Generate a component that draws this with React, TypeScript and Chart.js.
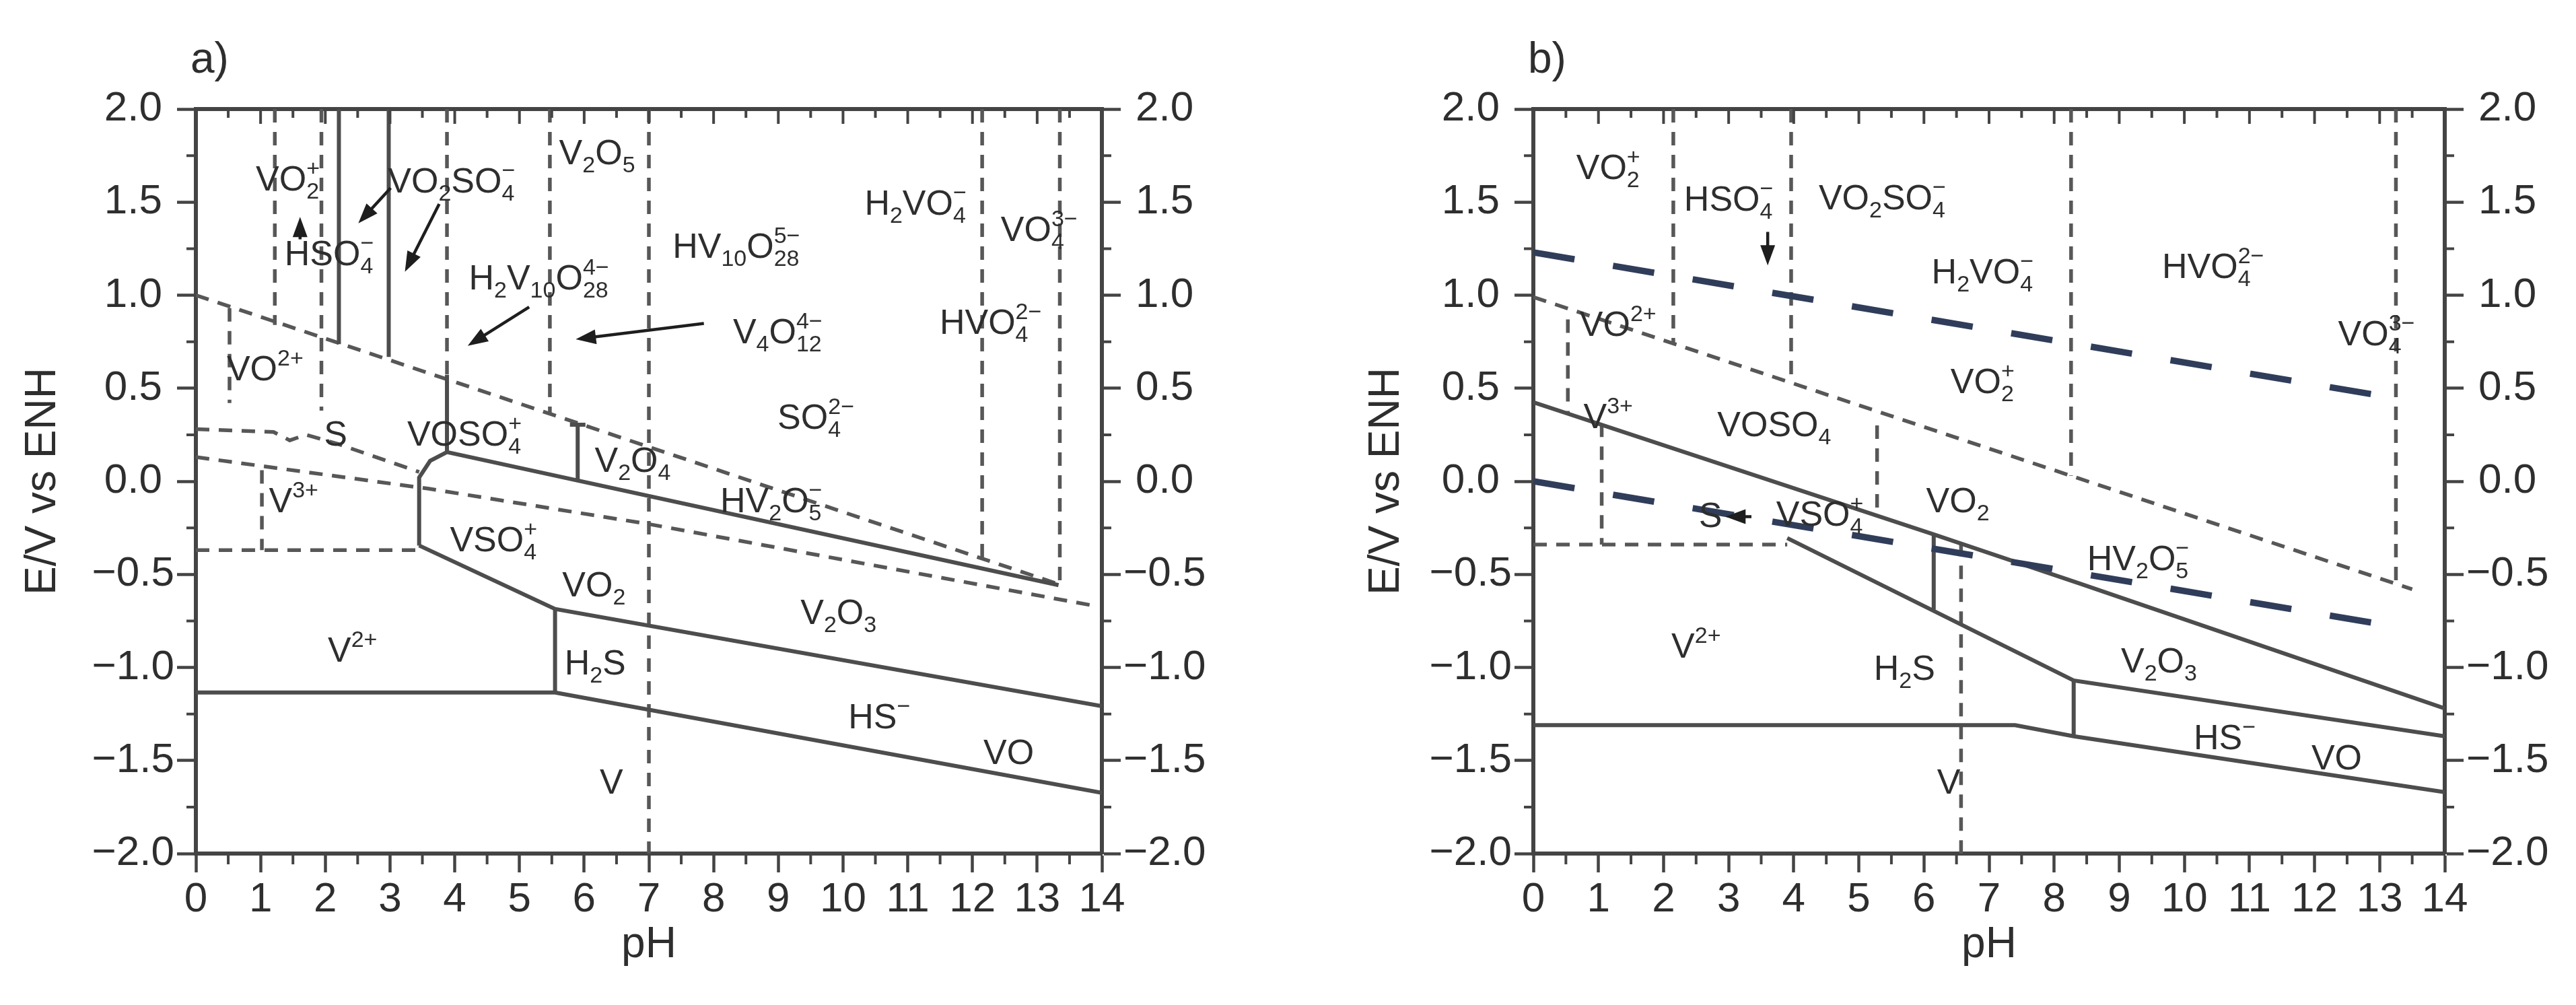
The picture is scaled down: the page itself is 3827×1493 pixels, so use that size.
import React, { useEffect, useRef } from "react";
import { Chart, registerables } from "chart.js";

Chart.register(...registerables);

type Pt = [number, number];
type Label = [string, number, number];
type Arrow = [Pt, Pt];

const W = 3827;
const H = 1493;
const PLOT_TOP = 162;
const PLOT_BOTTOM = 1268;

const PH_MIN = 0;
const PH_MAX = 14;
const E_MIN = -2;
const E_MAX = 2;
const PH_STEP = 1;
const E_STEP = 0.5;

const FAMILY = '"Liberation Sans", Arial, Helvetica, sans-serif';
const AXIS = "#444444";
const LINE = "#4d4d4d";
const DASH = "#575757";
const WATER = "#303d5a";
const TEXT = "#2e2e2e";

// ---------------- panel a ----------------
const A_SOLID: Pt[][] = [
  [[0, -1.135], [5.55, -1.135], [14, -1.674]],
  [[3.45, -0.345], [5.55, -0.686], [14, -1.208]],
  [[5.55, -1.135], [5.55, -0.686]],
  [[3.45, -0.345], [3.45, 0.02], [3.62, 0.11], [3.88, 0.157], [13.33, -0.558]],
  [[3.88, 0.572], [3.88, 0.157]],
  [[5.9, 0.005], [5.9, 0.304]],
  [[5.78, 0.304], [6.02, 0.304]],
  [[2.21, 2], [2.21, 0.737]],
  [[2.98, 2], [2.98, 0.668]],
];

const A_DASHED: Pt[][] = [
  [[0, 1.0], [13.35, -0.555]],
  [[0, 0.13], [3.6, -0.04], [7.0, -0.23], [13.9, -0.67]],
  [[0, 0.28], [1.2, 0.265], [1.45, 0.22], [1.7, 0.25], [2.2, 0.2], [3.45, 0.05]],
  [[0, -0.37], [3.45, -0.37]],
  [[0.52, 0.93], [0.52, 0.42]],
  [[1.02, 0.06], [1.02, -0.37]],
  [[1.22, 2], [1.22, 0.84]],
  [[1.94, 2], [1.94, 0.38]],
  [[3.88, 2], [3.88, 0.575]],
  [[5.47, 2], [5.47, 0.36]],
  [[7.0, 2], [7.0, -2]],
  [[12.15, 2], [12.15, -0.47]],
  [[13.35, 2], [13.35, -0.56]],
];

const A_WATER: Pt[][] = [];

const A_ARROWS: Arrow[] = [
  [[3.01, 1.576], [2.51, 1.386]],
  [[3.76, 1.49], [3.23, 1.126]],
  [[5.15, 0.936], [4.2, 0.728]],
  [[7.85, 0.848], [5.87, 0.763]],
  [[1.61, 1.3], [1.61, 1.42]],
];

const A_LABELS: Label[] = [
  ["VO_{2}^{+}", 1.42, 1.63],
  ["VO_{2}SO_{4}^{-}", 3.95, 1.62],
  ["HSO_{4}^{-}", 2.06, 1.23],
  ["V_{2}O_{5}", 6.2, 1.77],
  ["H_{2}V_{10}O_{28}^{4-}", 5.3, 1.1],
  ["HV_{10}O_{28}^{5-}", 8.35, 1.27],
  ["H_{2}VO_{4}^{-}", 11.12, 1.5],
  ["VO_{4}^{3-}", 13.03, 1.36],
  ["HVO_{4}^{2-}", 12.28, 0.86],
  ["V_{4}O_{12}^{4-}", 8.99, 0.81],
  ["SO_{4}^{2-}", 9.58, 0.35],
  ["HV_{2}O_{5}^{-}", 8.89, -0.1],
  ["V_{2}O_{4}", 6.75, 0.12],
  ["VOSO_{4}^{+}", 4.15, 0.26],
  ["VO^{2+}", 1.07, 0.61],
  ["S", 2.16, 0.26],
  ["V^{3+}", 1.51, -0.1],
  ["VSO_{4}^{+}", 4.6, -0.31],
  ["VO_{2}", 6.15, -0.55],
  ["V_{2}O_{3}", 9.93, -0.7],
  ["V^{2+}", 2.42, -0.9],
  ["H_{2}S", 6.17, -0.97],
  ["HS^{-}", 10.56, -1.26],
  ["VO", 12.56, -1.45],
  ["V", 6.42, -1.61],
];

// ---------------- panel b ----------------
const B_SOLID: Pt[][] = [
  [[0, 0.425], [6.15, -0.285], [8.4, -0.55], [14, -1.22]],
  [[3.9, -0.305], [8.3, -1.07], [14, -1.37]],
  [[6.15, -0.285], [6.15, -0.69]],
  [[0, -1.31], [7.4, -1.31], [8.3, -1.37], [14, -1.67]],
  [[8.3, -1.07], [8.3, -1.37]],
];

const B_DASHED: Pt[][] = [
  [[0, 0.99], [13.5, -0.58]],
  [[0, -0.34], [3.9, -0.34]],
  [[0.53, 0.87], [0.53, 0.37]],
  [[1.05, 0.31], [1.05, -0.34]],
  [[2.15, 2], [2.15, 0.74]],
  [[3.96, 2], [3.96, 0.53]],
  [[5.28, 0.3], [5.28, -0.18]],
  [[8.26, 2], [8.26, 0.03]],
  [[13.25, 2], [13.25, -0.55]],
  [[6.57, -0.33], [6.57, -2]],
];

const B_WATER: Pt[][] = [
  [[0, 1.23], [13.35, 0.44]],
  [[0, 0.0], [13.4, -0.79]],
];

const B_ARROWS: Arrow[] = [
  [[3.6, 1.34], [3.6, 1.16]],
  [[3.35, -0.19], [2.95, -0.19]],
];

const B_LABELS: Label[] = [
  ["VO_{2}^{+}", 1.15, 1.69],
  ["HSO_{4}^{-}", 3.0, 1.52],
  ["VO_{2}SO_{4}^{-}", 5.36, 1.53],
  ["H_{2}VO_{4}^{-}", 6.9, 1.13],
  ["HVO_{4}^{2-}", 10.44, 1.16],
  ["VO_{4}^{3-}", 12.95, 0.8],
  ["VO^{2+}", 1.3, 0.85],
  ["VO_{2}^{+}", 6.9, 0.54],
  ["V^{3+}", 1.15, 0.355],
  ["VOSO_{4}", 3.7, 0.31],
  ["VSO_{4}^{+}", 4.4, -0.17],
  ["S", 2.72, -0.18],
  ["VO_{2}", 6.52, -0.1],
  ["HV_{2}O_{5}^{-}", 9.29, -0.41],
  ["V^{2+}", 2.5, -0.88],
  ["H_{2}S", 5.7, -1.0],
  ["V", 6.38, -1.61],
  ["V_{2}O_{3}", 9.61, -0.96],
  ["HS^{-}", 10.62, -1.37],
  ["VO", 12.34, -1.48],
];

interface PanelSpec {
  letter: string;
  canvasLeft: number;
  canvasWidth: number;
  yWidth: number;
  y2Width: number;
  yTitlePad: number;
  solid: Pt[][];
  dashed: Pt[][];
  water: Pt[][];
  arrows: Arrow[];
  labels: Label[];
}

const PANELS: PanelSpec[] = [
  {
    letter: "a)", canvasLeft: 0, canvasWidth: 1913, yWidth: 291, y2Width: 1913 - 1637, yTitlePad: 26,
    solid: A_SOLID, dashed: A_DASHED, water: A_WATER, arrows: A_ARROWS, labels: A_LABELS,
  },
  {
    letter: "b)", canvasLeft: 1913, canvasWidth: 1914, yWidth: 365, y2Width: 1914 - (3632 - 1913), yTitlePad: 109,
    solid: B_SOLID, dashed: B_DASHED, water: B_WATER, arrows: B_ARROWS, labels: B_LABELS,
  },
];

// ---------- rich text ----------
type Seg = { t: string; k: "n" | "b" | "p" };
function parseRich(s: string): Seg[] {
  const out: Seg[] = [];
  let i = 0;
  while (i < s.length) {
    const c = s[i];
    if ((c === "_" || c === "^") && s[i + 1] === "{") {
      const j = s.indexOf("}", i + 2);
      out.push({ t: s.slice(i + 2, j).replace("-", "\u2212"), k: c === "_" ? "b" : "p" });
      i = j + 1;
    } else {
      let j = i;
      while (j < s.length && !((s[j] === "_" || s[j] === "^") && s[j + 1] === "{")) j++;
      out.push({ t: s.slice(i, j), k: "n" });
      i = j;
    }
  }
  return out;
}

const MAIN_SIZE = 52;
const SCRIPT_SIZE = 34;
const MAIN_FONT = `${MAIN_SIZE}px ${FAMILY}`;
const SCRIPT_FONT = `${SCRIPT_SIZE}px ${FAMILY}`;
const SUB_DY = 12;
const SUP_DY = -22;

function drawRich(ctx: CanvasRenderingContext2D, text: string, cx: number, cy: number) {
  const segs = parseRich(text);
  const items: { t: string; f: string; dx: number; dy: number }[] = [];
  let w = 0;
  for (let i = 0; i < segs.length; i++) {
    const s = segs[i];
    if (s.k === "n") {
      ctx.font = MAIN_FONT;
      items.push({ t: s.t, f: MAIN_FONT, dx: w, dy: 0 });
      w += ctx.measureText(s.t).width;
    } else {
      ctx.font = SCRIPT_FONT;
      const tw = ctx.measureText(s.t).width;
      const n = segs[i + 1];
      if (n && n.k !== "n" && n.k !== s.k) {
        const tw2 = ctx.measureText(n.t).width;
        items.push({ t: s.t, f: SCRIPT_FONT, dx: w, dy: s.k === "b" ? SUB_DY : SUP_DY });
        items.push({ t: n.t, f: SCRIPT_FONT, dx: w, dy: n.k === "b" ? SUB_DY : SUP_DY });
        w += Math.max(tw, tw2);
        i++;
      } else {
        items.push({ t: s.t, f: SCRIPT_FONT, dx: w, dy: s.k === "b" ? SUB_DY : SUP_DY });
        w += tw;
      }
    }
  }
  const x0 = cx - w / 2;
  const base = cy + MAIN_SIZE * 0.36;
  ctx.textAlign = "left";
  ctx.textBaseline = "alphabetic";
  ctx.fillStyle = TEXT;
  for (const it of items) {
    ctx.font = it.f;
    ctx.fillText(it.t, x0 + it.dx, base + it.dy);
  }
}

function makePlugin(p: PanelSpec) {
  return {
    id: "pourbaixDecor",
    afterDatasetsDraw(chart: any) {
      const ctx: CanvasRenderingContext2D = chart.ctx;
      const xs = chart.scales.x;
      const ys = chart.scales.y;
      ctx.save();
      for (const [a, b] of p.arrows) {
        const x0 = xs.getPixelForValue(a[0]);
        const y0 = ys.getPixelForValue(a[1]);
        const x1 = xs.getPixelForValue(b[0]);
        const y1 = ys.getPixelForValue(b[1]);
        const ang = Math.atan2(y1 - y0, x1 - x0);
        const hl = 30;
        const hw = 11;
        ctx.strokeStyle = "#1e1e1e";
        ctx.fillStyle = "#1e1e1e";
        ctx.lineWidth = 4.5;
        ctx.beginPath();
        ctx.moveTo(x0, y0);
        ctx.lineTo(x1 - Math.cos(ang) * hl * 0.8, y1 - Math.sin(ang) * hl * 0.8);
        ctx.stroke();
        ctx.beginPath();
        ctx.moveTo(x1, y1);
        ctx.lineTo(x1 - Math.cos(ang) * hl - Math.sin(ang) * hw, y1 - Math.sin(ang) * hl + Math.cos(ang) * hw);
        ctx.lineTo(x1 - Math.cos(ang) * hl + Math.sin(ang) * hw, y1 - Math.sin(ang) * hl - Math.cos(ang) * hw);
        ctx.closePath();
        ctx.fill();
      }
      for (const [t, px, py] of p.labels) {
        drawRich(ctx, t, xs.getPixelForValue(px), ys.getPixelForValue(py));
      }
      ctx.restore();
    },
    afterDraw(chart: any) {
      const ctx: CanvasRenderingContext2D = chart.ctx;
      const { left, right, top, bottom } = chart.chartArea;
      const xs = chart.scales.x;
      const ys = chart.scales.y;
      ctx.save();
      ctx.strokeStyle = AXIS;
      ctx.lineWidth = 4;
      ctx.beginPath();
      for (let i = 0; i <= (PH_MAX - PH_MIN) * 2; i++) {
        const v = PH_MIN + i * 0.5;
        const px = xs.getPixelForValue(v);
        const major = i % 2 === 0;
        if (!major) {
          ctx.moveTo(px, bottom);
          ctx.lineTo(px, bottom + 16);
        }
        ctx.moveTo(px, top);
        ctx.lineTo(px, top + (major ? 22 : 13));
      }
      for (let i = 0; i <= (E_MAX - E_MIN) * 4; i++) {
        if (i % 2 === 0) continue;
        const v = E_MIN + i * 0.25;
        const py = ys.getPixelForValue(v);
        ctx.moveTo(left, py);
        ctx.lineTo(left - 14, py);
        ctx.moveTo(right, py);
        ctx.lineTo(right + 14, py);
      }
      ctx.stroke();
      ctx.fillStyle = TEXT;
      ctx.font = `64px ${FAMILY}`;
      ctx.textAlign = "left";
      ctx.textBaseline = "middle";
      ctx.fillText(p.letter, left - 8, 90);
      ctx.restore();
    },
  };
}

function mkSets(lines: Pt[][], color: string, width: number, dash: number[]) {
  return lines.map((l) => ({
    data: l.map(([x, y]) => ({ x, y })),
    showLine: true,
    borderColor: color,
    backgroundColor: color,
    borderWidth: width,
    borderDash: dash,
    pointRadius: 0,
    pointHoverRadius: 0,
    fill: false,
    tension: 0,
  }));
}

const fmtE = (v: number) => (v < 0 ? "\u2212" + Math.abs(v).toFixed(1) : v.toFixed(1));

function buildConfig(p: PanelSpec): any {
  const tickFont = { family: FAMILY, size: 62 };
  const titleFont = { family: FAMILY, size: 64 };
  const yCommon = {
    type: "linear",
    min: E_MIN,
    max: E_MAX,
    ticks: {
      stepSize: E_STEP,
      color: TEXT,
      font: tickFont,
      padding: 4,
      crossAlign: "center",
      callback: (v: any) => fmtE(Number(v)),
    },
    grid: { display: true, drawOnChartArea: false, drawTicks: true, tickLength: 28, tickWidth: 4.5, tickColor: AXIS, color: AXIS },
    border: { display: true, width: 6, color: AXIS },
  };
  return {
    type: "scatter",
    data: {
      datasets: [
        ...mkSets(p.water, WATER, 9.5, [62, 58]),
        ...mkSets(p.solid, LINE, 6, []),
        ...mkSets(p.dashed, DASH, 5.5, [20, 14]),
      ],
    },
    options: {
      animation: false,
      responsive: false,
      devicePixelRatio: 1,
      events: [],
      layout: { padding: 0 },
      plugins: { legend: { display: false }, tooltip: { enabled: false }, title: { display: false } },
      scales: {
        x: {
          type: "linear",
          position: "bottom",
          min: PH_MIN,
          max: PH_MAX,
          ticks: { stepSize: PH_STEP, autoSkip: false, maxRotation: 0, color: TEXT, font: tickFont, padding: 4, callback: (v: any) => String(v) },
          grid: { display: true, drawOnChartArea: false, drawTicks: true, tickLength: 28, tickWidth: 4.5, tickColor: AXIS, color: AXIS },
          border: { display: true, width: 6, color: AXIS },
          title: { display: true, text: "pH", color: TEXT, font: titleFont, padding: { top: 0, bottom: 50 } },
          afterFit: (s: any) => { s.height = H - PLOT_BOTTOM; },
        },
        x2: {
          type: "linear",
          position: "top",
          min: PH_MIN,
          max: PH_MAX,
          ticks: { display: false },
          grid: { display: false, drawTicks: false },
          border: { display: true, width: 6, color: AXIS },
          afterFit: (s: any) => { s.height = PLOT_TOP; },
        },
        y: {
          ...yCommon,
          position: "left",
          title: { display: true, text: "E/V vs ENH", color: TEXT, font: titleFont, padding: { top: p.yTitlePad, bottom: 0 } },
          afterFit: (s: any) => { s.width = p.yWidth; },
        },
        y2: {
          ...yCommon,
          position: "right",
          afterFit: (s: any) => { s.width = p.y2Width; },
        },
      },
    },
    plugins: [makePlugin(p)],
  };
}

function Panel({ spec }: { spec: PanelSpec }) {
  const ref = useRef<HTMLCanvasElement>(null);
  useEffect(() => {
    const chart = new Chart(ref.current as HTMLCanvasElement, buildConfig(spec));
    return () => chart.destroy();
  }, [spec]);
  return (
    <canvas
      ref={ref}
      width={spec.canvasWidth}
      height={H}
      style={{ position: "absolute", left: spec.canvasLeft, top: 0, width: spec.canvasWidth, height: H }}
    />
  );
}

export default function App() {
  return (
    <div style={{ position: "absolute", left: 0, top: 0, width: W, height: H, background: "#fff", overflow: "hidden" }}>
      {PANELS.map((p) => (
        <Panel key={p.letter} spec={p} />
      ))}
    </div>
  );
}
